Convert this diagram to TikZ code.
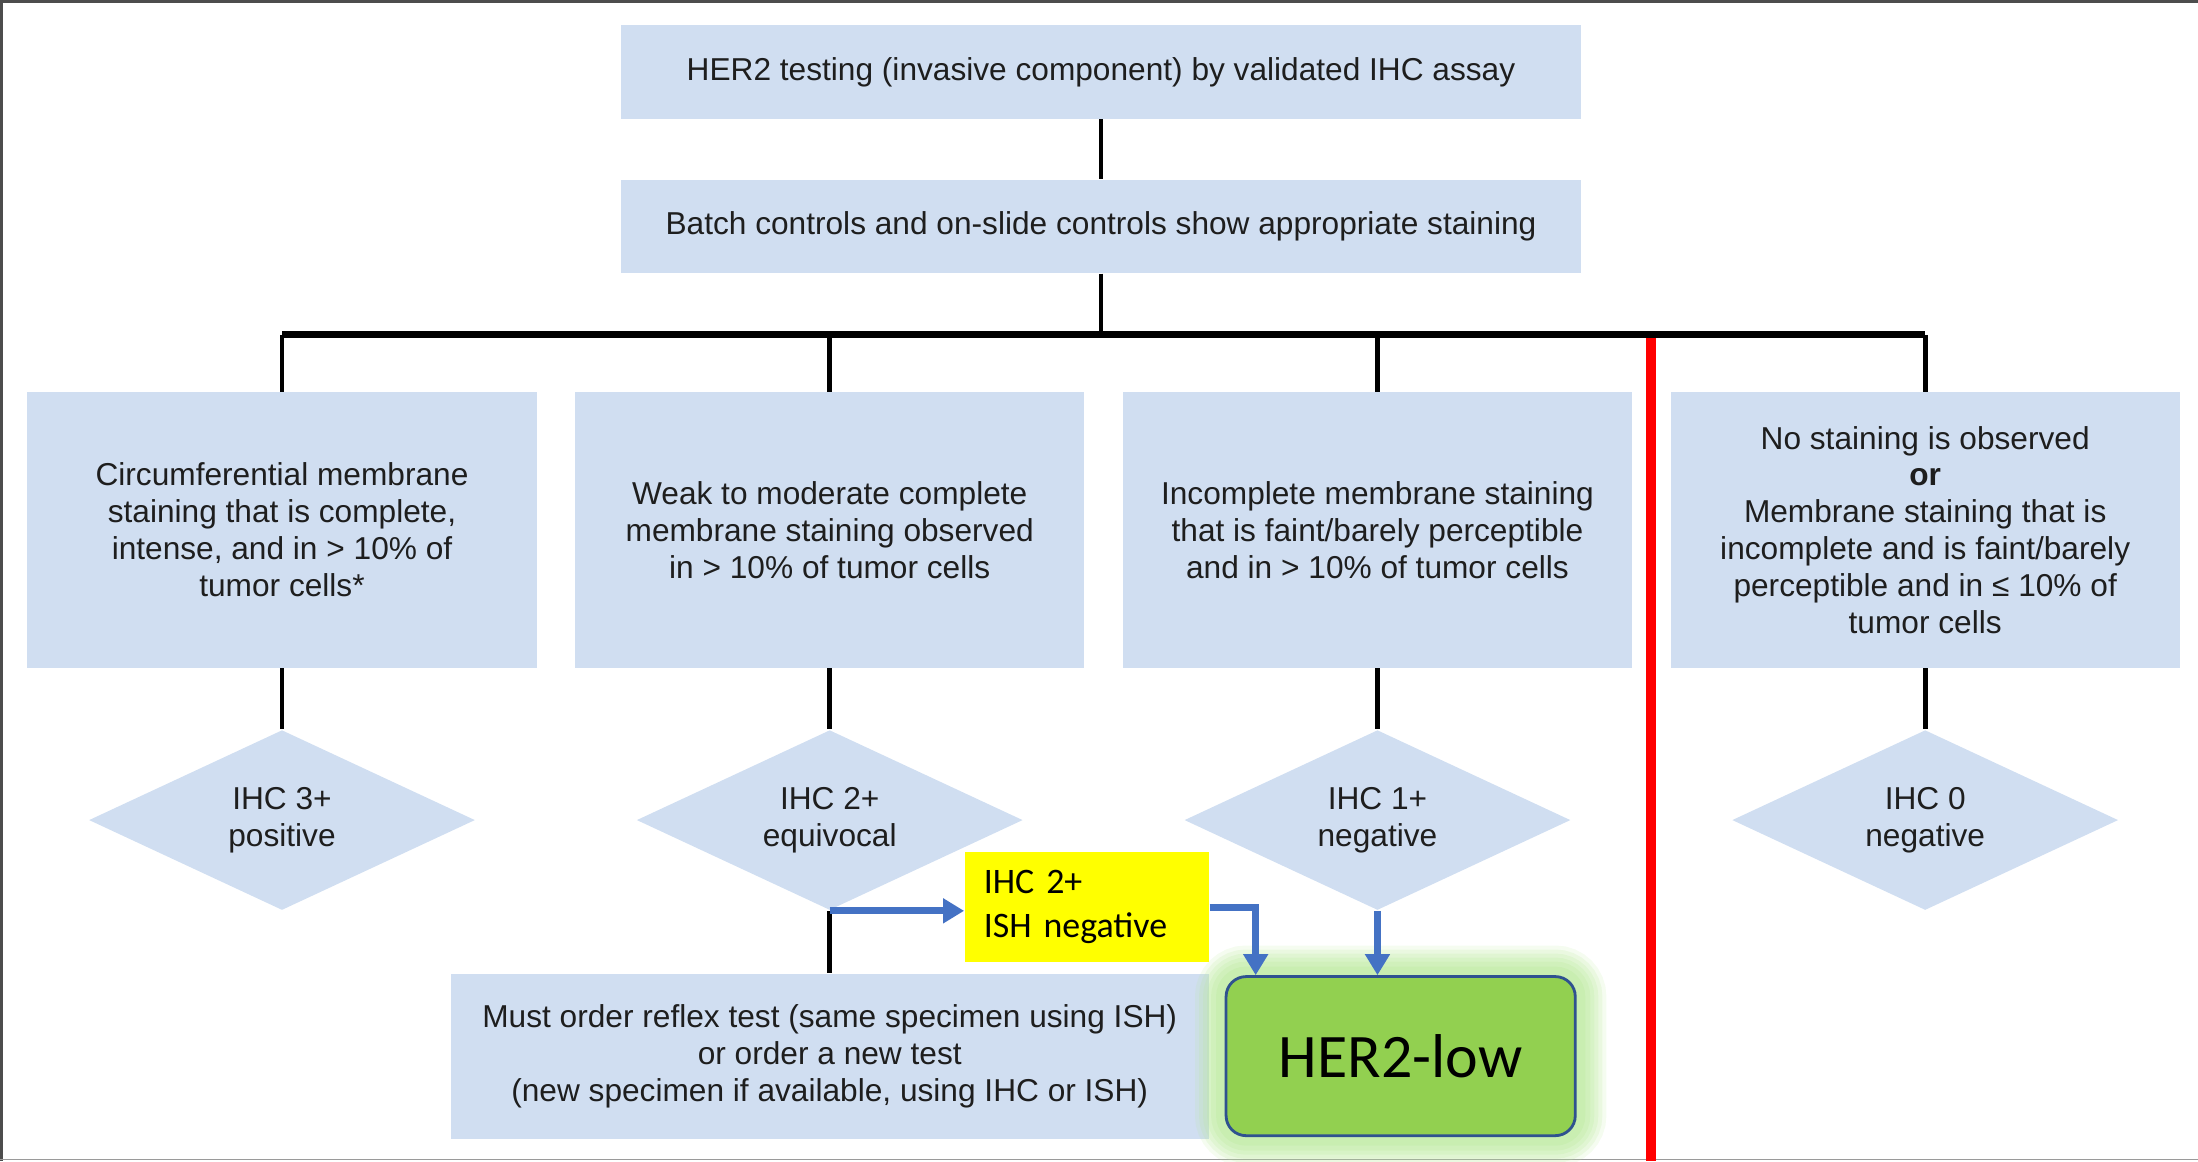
\documentclass[tikz,border=0pt]{standalone}
\usepackage{fontspec}
\setmainfont{Liberation Sans}
\newfontfamily\calibri{Carlito}
\usetikzlibrary{arrows.meta,positioning,shapes.geometric}
\definecolor{boxFill}{HTML}{D0DEF1}
\definecolor{textInk}{HTML}{1E1E1E}
\definecolor{flowBlue}{HTML}{4472C4}
\definecolor{ishFill}{HTML}{FFFF00}
\definecolor{lowFill}{HTML}{92D050}
\definecolor{lowDraw}{HTML}{2F528F}
\definecolor{glowGreen}{HTML}{B9E99A}
\definecolor{frameDark}{HTML}{4D4D4D}
\definecolor{frameLight}{HTML}{9A9A9A}
\definecolor{cutRed}{HTML}{FF0000}
\tikzset{
  font=\fontsize{9}{10.5}\selectfont,
  box/.style      ={fill=boxFill, text=textInk, align=center, inner sep=2pt},
  stage/.style    ={box, minimum width=9.6cm, minimum height=0.93cm},
  crit/.style     ={box, minimum width=5.09cm, minimum height=2.75cm},
  score/.style    ={box, diamond, shape aspect=2.14, inner sep=-4pt,
                    minimum width=3.86cm, minimum height=1.8cm},
  reflexbox/.style={box, minimum width=7.58cm, minimum height=1.65cm},
  ishbox/.style   ={fill=ishFill, align=left, inner sep=0pt, text width=2.06cm,
                    minimum width=2.44cm, minimum height=1.1cm,
                    font=\calibri\fontsize{10.2}{12.5}\selectfont},
  lowbox/.style   ={fill=lowFill, draw=lowDraw, line width=0.8pt, rounded corners=0.2cm,
                    minimum width=3.49cm, minimum height=1.59cm,
                    font=\calibri\fontsize{17.6}{20}\selectfont,
                    preaction={draw=glowGreen, line width=0.62cm, opacity=0.15},
                    preaction={draw=glowGreen, line width=0.54cm, opacity=0.18},
                    preaction={draw=glowGreen, line width=0.46cm, opacity=0.2},
                    preaction={draw=glowGreen, line width=0.38cm, opacity=0.22},
                    preaction={draw=glowGreen, line width=0.3cm, opacity=0.25},
                    preaction={draw=glowGreen, line width=0.2cm, opacity=0.3}},
  link/.style     ={line width=1.4pt},
  bus/.style      ={line width=1.9pt},
  flow/.style     ={draw=flowBlue, line width=2pt, -{Triangle[width=6.8pt,length=6pt]}},
}
\begin{document}
\begin{tikzpicture}[x=0.01cm, y=-0.01cm]
  \useasboundingbox (0,0) rectangle (2198,1161);
  % frame
  \draw[frameDark, line width=0.85pt] (0,1.5) -- (2198,1.5) (1.5,0) -- (1.5,1161);
  \draw[frameLight, line width=0.45pt] (0,1159.5) -- (2198,1159.5);

  % test and controls
  \node[stage]                    (test)  at (1101,72) {HER2 testing (invasive component) by validated IHC assay};
  \node[stage, below=0.6cm of test] (batch) {Batch controls and on-slide controls show appropriate staining};
  \coordinate[below=0.61cm of batch] (split);

  % staining criteria
  \node[crit] (c3) at (282,530) {Circumferential membrane\\staining that is complete,\\intense, and in > 10\% of\\tumor cells*};
  \node[crit, right=0.37cm of c3] (c2) {Weak to moderate complete\\membrane staining observed\\in > 10\% of tumor cells};
  \node[crit, right=0.37cm of c2] (c1) {Incomplete membrane staining\\that is faint/barely perceptible\\and in > 10\% of tumor cells};
  \node[crit, right=0.37cm of c1] (c0) {No staining is observed\\\textbf{or}\\Membrane staining that is\\incomplete and is faint/barely\\perceptible and in ≤ 10\% of\\tumor cells};

  % scores
  \node[score, below=0.61cm of c3] (d3) {IHC 3+\\positive};
  \node[score, below=0.61cm of c2] (d2) {IHC 2+\\equivocal};
  \node[score, below=0.61cm of c1] (d1) {IHC 1+\\negative};
  \node[score, below=0.61cm of c0] (d0) {IHC 0\\negative};

  % reflex and HER2-low
  \node[reflexbox, below=0.62cm of d2] (reflex) {Must order reflex test (same specimen using ISH)\\or order a new test\\(new specimen if available, using IHC or ISH)};
  \node[ishbox, above left=0.1cm and 0cm of reflex.north east] (ish) {IHC 2+\\ISH negative};
  \node[lowbox, right=0.15cm of reflex] (low) {HER2-low};

  \draw[link] (test) -- (batch);
  \draw[link] (batch) -- (split);
  \draw[bus] (c3.north |- split) -- (c0.north |- split);
  \foreach \n in {c3,c2,c1,c0}
    \draw[link] (\n.north |- split) -- (\n.north);
  \foreach \n/\m in {c3/d3,c2/d2,c1/d1,c0/d0}
    \draw[link] (\n) -- (\m);
  \draw[link] (d2.south) -- (reflex.north);
  \draw[flow] (d2.south) -- (d2.south -| ish.west);
  \draw[flow] (ish.east) -| ([xshift=0.31cm]low.north west);
  \draw[flow] (d1.south) -- (d1.south |- low.north);

  % HER2-low cut-off
  \draw[cutRed, line width=3.1pt] (1651,338) -- (1651,1161);
\end{tikzpicture}
\end{document}
